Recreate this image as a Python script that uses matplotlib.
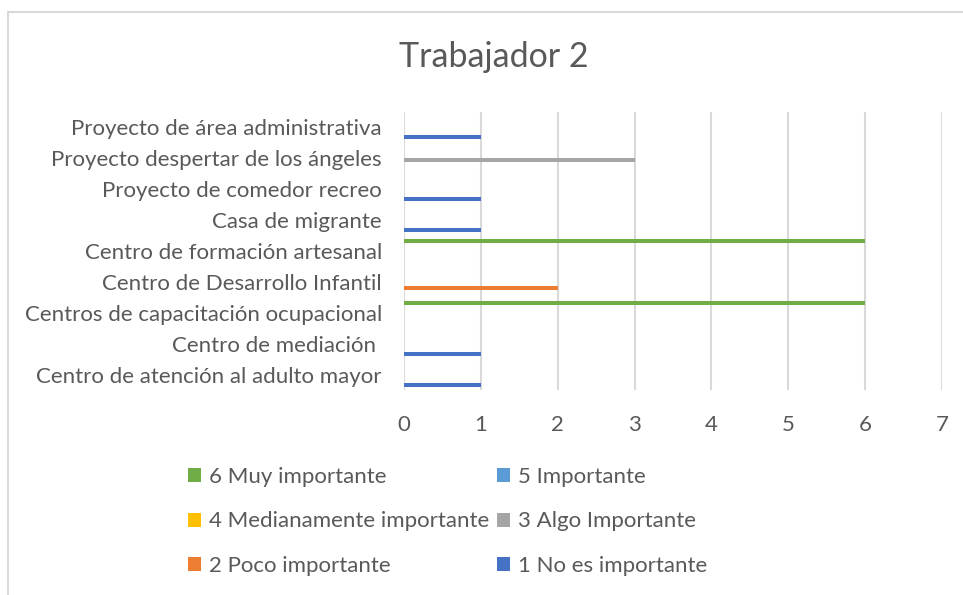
import numpy as np
import matplotlib.pyplot as plt
from matplotlib.patches import Rectangle

plt.rcParams['font.family'] = ['Lato', 'DejaVu Sans']

# categories, bottom to top
categories = [
    "Centro de atención al adulto mayor",
    "Centro de mediación ",
    "Centros de capacitación ocupacional",
    "Centro de Desarrollo Infantil",
    "Centro de formación artesanal",
    "Casa de migrante",
    "Proyecto de comedor recreo",
    "Proyecto despertar de los ángeles",
    "Proyecto de área administrativa",
]

series_names = ["1 No es importante", "2 Poco importante", "3 Algo Importante",
                "4 Medianamente importante", "5 Importante", "6 Muy importante"]
series_colors = ["#4472C4", "#ED7D31", "#A5A5A5", "#FFC000", "#5B9BD5", "#70AD47"]

s1 = [1, 1, 0, 0, 0, 1, 1, 0, 1]
s2 = [0, 0, 0, 2, 0, 0, 0, 0, 0]
s3 = [0, 0, 0, 0, 0, 0, 0, 3, 0]
s4 = [0, 0, 0, 0, 0, 0, 0, 0, 0]
s5 = [0, 0, 0, 0, 0, 0, 0, 0, 0]
s6 = [0, 0, 6, 0, 6, 0, 0, 0, 0]
series_values = [s1, s2, s3, s4, s5, s6]

text_color = "#595959"
grid_color = "#D9D9D9"

fig = plt.figure(figsize=(9.63, 5.95), dpi=100)
ax = fig.add_axes([404/963, 1 - 390/595, (942 - 404)/963, (390 - 112)/595])

y = np.arange(len(categories))
h = 0.13
handles = []
for k, (vals, col, name) in enumerate(zip(series_values, series_colors, series_names)):
    b = ax.barh(y + (k - 2.5) * h, vals, height=h, color=col, label=name, zorder=3)
    handles.append(b)

ax.set_xlim(0, 7)
ax.set_ylim(-0.5, len(categories) - 0.5)
ax.set_xticks(range(8))
ax.set_yticks(y)
ax.set_yticklabels(categories)
ax.tick_params(axis='both', length=0, colors=text_color, labelsize=16)
ax.tick_params(axis='x', pad=18)
ax.tick_params(axis='y', pad=16)
ax.grid(axis='x', color=grid_color, linewidth=1.5, zorder=0)
for s in ax.spines.values():
    s.set_visible(False)

fig.text(494/963, 1 - 57/595, "Trabajador 2", ha='center', va='center',
         fontsize=24.5, color=text_color)

# legend, two columns filled row-wise like the original
order = [5, 3, 1, 4, 2, 0]
leg = fig.legend([handles[i] for i in order], [series_names[i] for i in order],
                 ncol=2, loc='upper left', bbox_to_anchor=(188/963, 1 - 467/595),
                 frameon=False, fontsize=16, handlelength=0.6, handleheight=0.6,
                 handletextpad=0.35, labelspacing=1.1, columnspacing=0.35,
                 labelcolor=text_color, borderaxespad=0, borderpad=0)

# chart area border (cut off on the right and bottom)
fig.patches.append(Rectangle((8/963, -0.1), 1.2, 1 - 12/595 + 0.1,
                             transform=fig.transFigure, fill=False,
                             edgecolor=grid_color, linewidth=1.5))

fig.savefig("out.png", dpi=100)
